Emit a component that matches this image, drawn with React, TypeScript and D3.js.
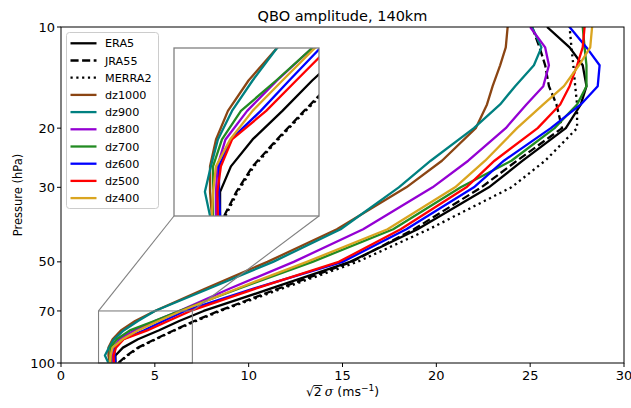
import React, { useLayoutEffect, useRef, useState } from 'react';
import * as d3 from 'd3';

// Pressure levels (hPa)
const levels = [100, 95, 90, 85, 80, 75, 70, 60, 50, 40, 30, 25, 20, 17, 15, 13, 11.5, 10];

// sqrt(2)*sigma (m/s) per level
const era5 = [2.9, 2.9, 3.3, 4.1, 5.2, 6.3, 7.6, 11.2, 15.4, 19.0, 22.8, 24.6, 26.9, 27.7, 28.0, 27.8, 27.1, 25.9];
const jra55 = [3.05, 3.5, 4.1, 5.0, 6.0, 7.1, 8.4, 11.6, 15.5, 18.8, 22.4, 24.3, 26.7, 26.4, 26.0, 25.8, 25.5, 25.1];
const merra2 = [3.1, 3.55, 4.15, 5.05, 6.05, 7.2, 8.5, 11.8, 15.8, 19.6, 24.0, 25.8, 27.5, 27.5, 27.4, 27.3, 27.2, 27.1];
const dz1000 = [2.6, 2.53, 2.53, 2.75, 3.19, 3.95, 5.0, 7.7, 11.0, 14.7, 18.4, 20.3, 22.1, 22.7, 23.0, 23.4, 23.7, 23.8];
const dz900 = [2.53, 2.34, 2.56, 2.82, 3.34, 4.1, 5.0, 7.9, 11.3, 14.9, 18.0, 19.7, 22.0, 23.4, 24.2, 25.2, 25.6, 25.1];
const dz800 = [2.75, 2.75, 2.8, 3.1, 3.9, 5.0, 6.3, 9.0, 12.4, 16.1, 19.8, 21.7, 23.7, 24.8, 25.7, 26.0, 25.8, 25.0];
const dz700 = [2.64, 2.64, 2.64, 2.97, 3.67, 4.97, 6.3, 9.5, 13.4, 17.7, 21.3, 24.0, 26.3, 27.5, 28.0, 28.0, 27.9, 27.8];
const dz600 = [2.9, 2.86, 2.86, 3.3, 4.4, 5.45, 6.6, 10.3, 15.0, 18.4, 22.0, 23.6, 26.1, 27.7, 28.6, 28.7, 28.0, 27.1];
const dz500 = [2.82, 2.8, 2.93, 3.34, 4.6, 5.71, 6.9, 10.4, 14.8, 18.1, 21.6, 23.1, 25.4, 26.6, 27.1, 27.5, 27.8, 27.9];
const dz400 = [2.6, 2.64, 2.75, 3.27, 4.1, 5.2, 6.4, 9.4, 13.1, 17.4, 21.0, 22.6, 24.3, 25.7, 26.8, 27.6, 28.2, 28.3];

const seriesNames = ['ERA5', 'JRA55', 'MERRA2', 'dz1000', 'dz900', 'dz800', 'dz700', 'dz600', 'dz500', 'dz400'];
const seriesValues = [era5, jra55, merra2, dz1000, dz900, dz800, dz700, dz600, dz500, dz400];
const seriesColors = ['#000000', '#000000', '#000000', '#8b4513', '#008080', '#9400d3', '#228b22', '#0000ff', '#ff0000', '#daa520'];
const seriesDash = ['', '8.1,3.5', '2.2,3.6', '', '', '', '', '', '', ''];

const xTicks = [0, 5, 10, 15, 20, 25, 30];
const yTicks = [10, 20, 30, 50, 70, 100];
const zoomX = [2, 7];
const zoomP = [70, 100];
const insetXDomain = [1.2, 6.55];

const W = 631;
const H = 408;
const plot = { left: 61, right: 624, top: 27, bottom: 363 };
const inset = { left: 174, right: 319, top: 48, bottom: 216 };
const FONT = 'DejaVu Sans, sans-serif';
const LW = 2.3;

export default function App() {
  const x = d3.scaleLinear().domain([0, 30]).range([plot.left, plot.right]);
  const y = d3.scaleLog().domain([10, 100]).range([plot.top, plot.bottom]);
  const xi = d3.scaleLinear().domain(insetXDomain).range([inset.left, inset.right]);
  const yi = d3.scaleLog().domain([zoomP[0], zoomP[1]]).range([inset.top, inset.bottom]);

  const labelRef = useRef<SVGTextElement>(null);
  const [bar, setBar] = useState<{ x1: number; x2: number } | null>(null);
  useLayoutEffect(() => {
    const el = labelRef.current as any;
    if (el && el.getStartPositionOfChar) {
      try {
        const s = el.getStartPositionOfChar(0);
        const e = el.getEndPositionOfChar(1);
        setBar({ x1: s.x + 7.5, x2: e.x + 0.5 });
      } catch (err) {
        /* ignore */
      }
    }
  }, []);

  const mkLine = (sx: any, sy: any) =>
    d3.line<number>()
      .x((d) => sx(d))
      .y((_, i) => sy(levels[i]));

  const mainLine = mkLine(x, y);
  const insetLine = mkLine(xi, yi);

  const rx0 = x(zoomX[0]);
  const rx1 = x(zoomX[1]);
  const ry0 = y(zoomP[0]);
  const ry1 = y(zoomP[1]);

  const legend = { left: 66.5, top: 32.5, width: 92, height: 176, rowH: 17.2 };
  const xlabelY = 396;

  return (
    <svg width={W} height={H} style={{ position: 'absolute', left: 0, top: 0, background: '#fff' }} fontFamily={FONT}>
      <defs>
        <clipPath id="mainClip">
          <rect x={plot.left} y={plot.top} width={plot.right - plot.left} height={plot.bottom - plot.top} />
        </clipPath>
        <clipPath id="insetClip">
          <rect x={inset.left} y={inset.top} width={inset.right - inset.left} height={inset.bottom - inset.top} />
        </clipPath>
      </defs>
      <rect x={0} y={0} width={W} height={H} fill="#fff" />

      {/* curves */}
      <g clipPath="url(#mainClip)">
        {seriesValues.map((vals, k) => (
          <path key={k} d={mainLine(vals) || ''} fill="none" stroke={seriesColors[k]} strokeWidth={LW}
            strokeDasharray={seriesDash[k] || undefined} strokeLinejoin="round" />
        ))}
      </g>

      {/* zoom rectangle and connectors */}
      <rect x={rx0} y={ry0} width={rx1 - rx0} height={ry1 - ry0} fill="none" stroke="#808080" strokeWidth={1.1} />
      <line x1={rx0} y1={ry0} x2={inset.left} y2={inset.bottom} stroke="#808080" strokeWidth={1.1} />
      <line x1={rx1} y1={ry0} x2={inset.right} y2={inset.bottom} stroke="#808080" strokeWidth={1.1} />

      {/* inset */}
      <rect x={inset.left} y={inset.top} width={inset.right - inset.left} height={inset.bottom - inset.top} fill="#fff" />
      <g clipPath="url(#insetClip)">
        {seriesValues.map((vals, k) => (
          <path key={k} d={insetLine(vals) || ''} fill="none" stroke={seriesColors[k]} strokeWidth={LW}
            strokeDasharray={seriesDash[k] || undefined} strokeLinejoin="round" />
        ))}
      </g>
      <rect x={inset.left} y={inset.top} width={inset.right - inset.left} height={inset.bottom - inset.top} fill="none" stroke="#808080" strokeWidth={1.3} />

      {/* axes frame */}
      <rect x={plot.left} y={plot.top} width={plot.right - plot.left} height={plot.bottom - plot.top} fill="none" stroke="#000" strokeWidth={1} />

      {/* x ticks */}
      {xTicks.map((t) => (
        <g key={t}>
          <line x1={x(t)} x2={x(t)} y1={plot.bottom} y2={plot.bottom + 4} stroke="#000" strokeWidth={1} />
          <text x={x(t)} y={plot.bottom + 17} textAnchor="middle" fontSize={13}>{t}</text>
        </g>
      ))}
      {/* y ticks */}
      {yTicks.map((t) => (
        <g key={t}>
          <line x1={plot.left - 4} x2={plot.left} y1={y(t)} y2={y(t)} stroke="#000" strokeWidth={1} />
          <text x={plot.left - 6} y={y(t)} dy="0.35em" textAnchor="end" fontSize={13}>{t}</text>
        </g>
      ))}

      {/* labels */}
      <text x={(plot.left + plot.right) / 2} y={21} textAnchor="middle" fontSize={14.5}>QBO amplitude, 140km</text>
      <text transform={`translate(22,${(plot.top + plot.bottom) / 2}) rotate(-90)`} textAnchor="middle" fontSize={11.5}>Pressure (hPa)</text>
      <text ref={labelRef} x={(plot.left + plot.right) / 2} y={xlabelY} textAnchor="middle" fontSize={12.5}>
        √2<tspan dx={3} fontStyle="italic" fontFamily="DejaVu Serif, serif">σ</tspan> (ms<tspan dy={-5} fontSize={9}>−1</tspan><tspan dy={5}>)</tspan>
      </text>
      {bar && (
        <line x1={bar.x1} x2={bar.x2} y1={xlabelY - 10.5} y2={xlabelY - 10.5} stroke="#000" strokeWidth={0.9} />
      )}

      {/* legend */}
      <rect x={legend.left} y={legend.top} width={legend.width} height={legend.height} rx={3}
        fill="#fff" fillOpacity={0.8} stroke="#cccccc" strokeWidth={1} />
      {seriesNames.map((name, k) => {
        const cy = legend.top + 10.8 + k * legend.rowH;
        return (
          <g key={name}>
            <line x1={legend.left + 4} x2={legend.left + 30} y1={cy} y2={cy} stroke={seriesColors[k]} strokeWidth={LW}
              strokeDasharray={seriesDash[k] || undefined} />
            <text x={legend.left + 38.5} y={cy} dy="0.36em" fontSize={11.2}>{name}</text>
          </g>
        );
      })}
    </svg>
  );
}
